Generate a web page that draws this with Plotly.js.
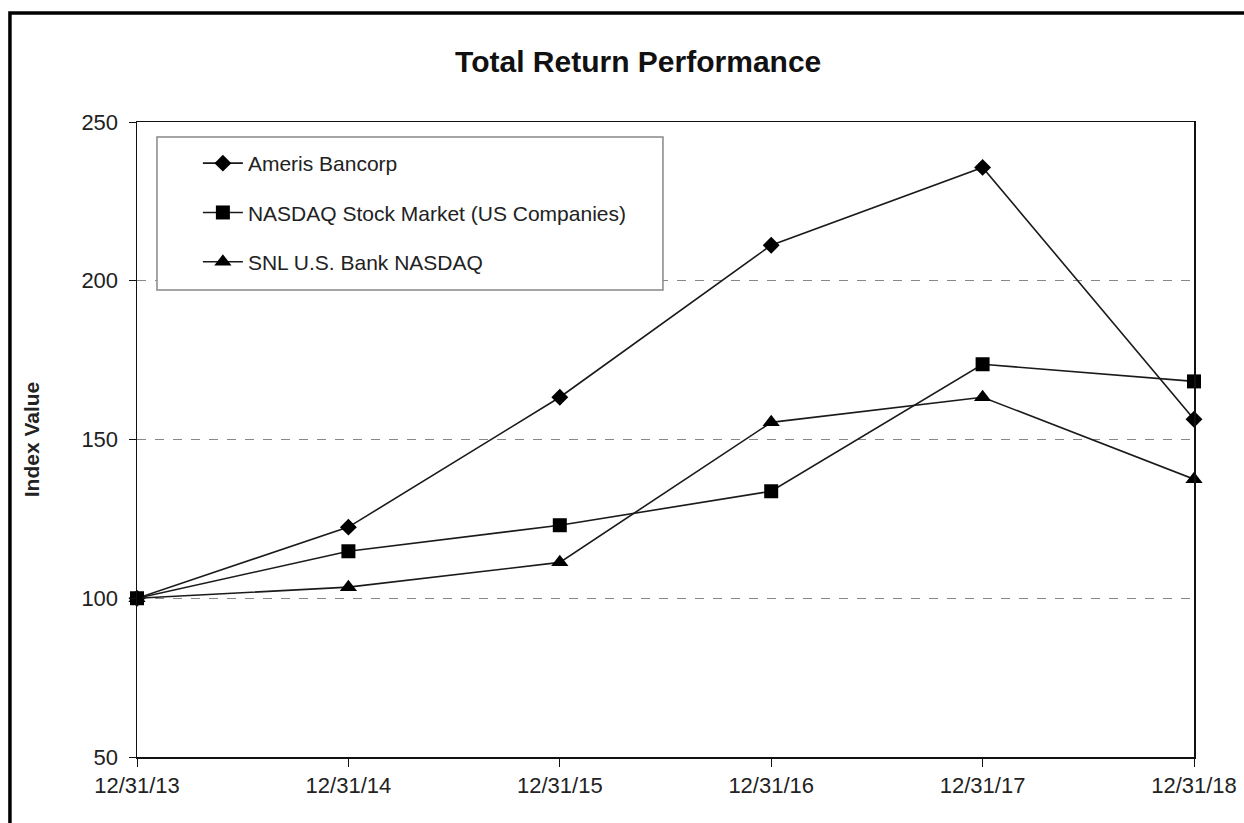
<!DOCTYPE html>
<html>
<head>
<meta charset="utf-8">
<script src="https://cdn.plot.ly/plotly-3.0.1.min.js"></script>
<style>html,body{margin:0;padding:0;background:#fff;}#chart{width:1244px;height:823px;}</style>
</head>
<body>
<div id="chart"></div>
<script>
const dates = ["12/31/13", "12/31/14", "12/31/15", "12/31/16", "12/31/17", "12/31/18"];
const ameris = [100, 122.4, 163.3, 211.2, 235.7, 156.4];
const nasdaq = [100, 114.8, 123.0, 133.7, 173.7, 168.3];
const snl = [100, 103.5, 111.3, 155.4, 163.3, 137.5];
const seriesNames = ["Ameris Bancorp", "NASDAQ Stock Market (US Companies)", "SNL U.S. Bank NASDAQ"];
const yTicks = [50, 100, 150, 200, 250];

const symbols = ["diamond", "square", "triangle-up"];
const sizes = [13, 14, 15];
const data = [ameris, nasdaq, snl].map((vals, i) => ({
  type: "scatter",
  mode: "lines+markers",
  x: dates,
  y: vals,
  name: seriesNames[i],
  legendgroup: "g" + i,
  line: {color: "#1a1a1a", width: 1.6},
  marker: {symbol: symbols[i], size: sizes[i], color: "#000"},
  cliponaxis: false
}));

const layout = {
  width: 1244, height: 823,
  paper_bgcolor: "#fff", plot_bgcolor: "#fff",
  margin: {l: 137, r: 50, t: 122, b: 66},
  font: {family: "Arial, 'Liberation Sans', sans-serif", color: "#222", size: 21},
  title: {text: "<b>Total Return Performance</b>", font: {size: 30, color: "#111"}, x: 0.513, xanchor: "center", y: 0.925, yanchor: "middle"},
  showlegend: true,
  legend: {
    x: 0.0576, y: 0.9669, xanchor: "left", yanchor: "top",
    borderwidth: 0, bgcolor: "rgba(0,0,0,0)",
    font: {size: 21, color: "#222"},
    traceorder: "grouped", tracegroupgap: 19,
    itemwidth: 40
  },
  xaxis: {
    type: "category",
    range: [0, 5],
    showgrid: false,
    showline: true, linecolor: "#111", linewidth: 1.5, mirror: true,
    ticks: "outside", ticklen: 8, tickcolor: "#111",
    tickfont: {size: 22, color: "#222"},
    zeroline: false, fixedrange: true
  },
  yaxis: {
    range: [50, 250],
    tickvals: yTicks,
    showgrid: true, gridcolor: "#888", griddash: "dash", gridwidth: 1,
    showline: true, linecolor: "#111", linewidth: 1.5, mirror: true,
    ticks: "outside", ticklen: 7, tickcolor: "#111",
    ticklabelstandoff: 6,
    tickfont: {size: 22, color: "#222"},
    title: {text: "<b>Index Value</b>", font: {size: 21, color: "#222"}, standoff: 36},
    zeroline: false, fixedrange: true
  },
  shapes: [
    {type: "rect", xref: "paper", yref: "paper", x0: -0.1202, x1: 1.06, y0: -0.2, y1: 1.1717,
     line: {color: "#000", width: 3.5}, fillcolor: "rgba(0,0,0,0)", layer: "below"},
    {type: "rect", xref: "paper", yref: "paper", x0: 0.0189, x1: 0.4976, y0: 0.7354, y1: 0.9764,
     line: {color: "#888", width: 1.5}, fillcolor: "#fff", layer: "above"}
  ]
};

Plotly.newPlot("chart", data, layout, {displayModeBar: false, staticPlot: true});
</script>
</body>
</html>
